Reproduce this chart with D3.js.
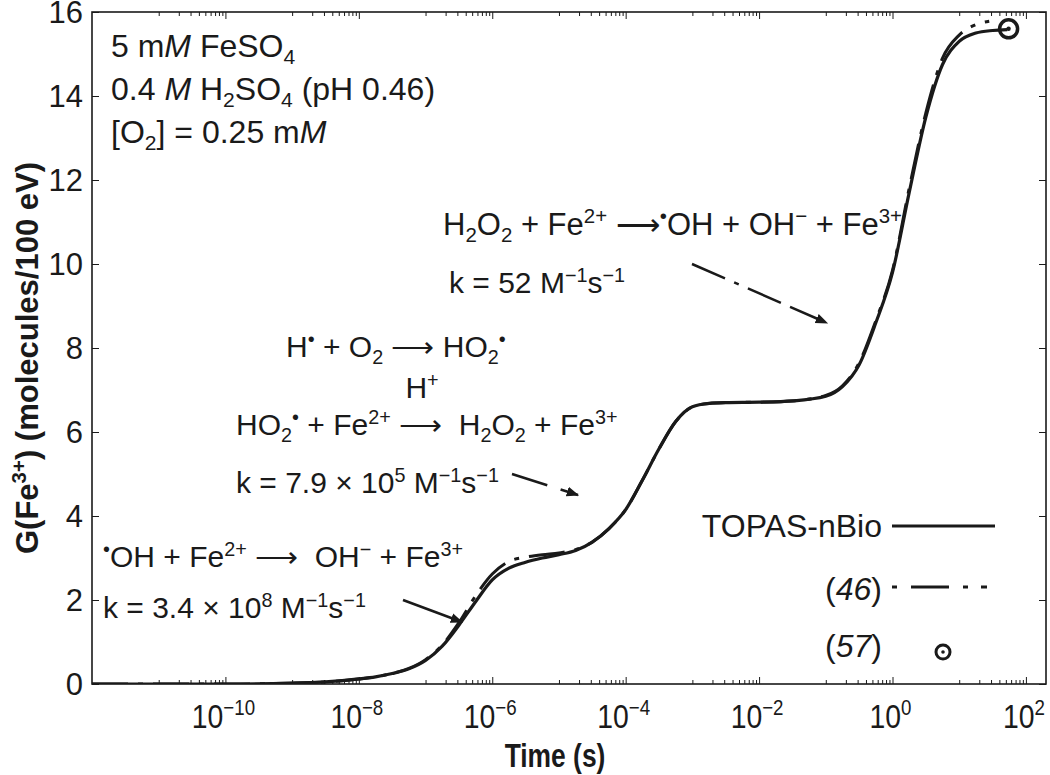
<!DOCTYPE html>
<html><head><meta charset="utf-8">
<script src="https://cdn.jsdelivr.net/npm/d3@7"></script>
<style>
html,body{margin:0;padding:0;background:#fff;}
text{white-space:pre;}
</style></head>
<body><svg id="chart" width="1050" height="775"></svg>
<script>
// ---- data ----
const topasLogT = [-12,-10,-9,-8.5,-8,-7.75,-7.5,-7.25,-7,-6.75,-6.5,-6.25,-6,-5.75,-5.5,-5.25,-5,-4.75,-4.5,-4.25,-4,-3.75,-3.5,-3.25,-3,-2.75,-2.5,-2,-1.5,-1,-0.75,-0.5,-0.25,0,0.25,0.5,0.75,1,1.25,1.5,1.72];
const topasG    = [0,0,0.02,0.05,0.12,0.17,0.25,0.36,0.56,0.9,1.4,1.96,2.48,2.76,2.9,3.0,3.08,3.18,3.38,3.7,4.15,4.85,5.6,6.25,6.6,6.68,6.7,6.71,6.74,6.85,7.08,7.6,8.6,9.8,11.7,13.5,14.75,15.3,15.5,15.56,15.58];
const ref46LogT = [-12,-10,-9,-8.5,-8,-7.75,-7.5,-7.25,-7,-6.75,-6.5,-6.25,-6,-5.75,-5.5,-5.25,-5,-4.75,-4.5,-4.25,-4,-3.75,-3.5,-3.25,-3,-2.75,-2.5,-2,-1.5,-1,-0.75,-0.5,-0.25,0,0.25,0.5,0.75,1,1.25,1.45];
const ref46G    = [0,0,0.02,0.05,0.12,0.17,0.25,0.37,0.58,0.93,1.46,2.1,2.62,2.92,3.02,3.08,3.12,3.2,3.38,3.7,4.15,4.85,5.6,6.25,6.6,6.68,6.7,6.71,6.74,6.87,7.1,7.65,8.65,9.85,11.8,13.6,14.9,15.45,15.7,15.78];
const ref57T = [55];
const ref57G = [15.6];
const yTicks = [0,2,4,6,8,10,12,14,16];
const xTickExp = [-10,-8,-6,-4,-2,0,2];

// ---- layout ----
const svg = d3.select('#chart');
const L = 92, R = 1046, T = 12, B = 684;
const x = d3.scaleLog().domain([1e-12, 200]).range([L, R]);
const y = d3.scaleLinear().domain([0, 16]).range([B, T]);
const FONT = 'Liberation Sans, Arial, Helvetica, sans-serif';
const ink = '#1a1a1a';

function rich(sel, px, py, segs, fs, opts = {}) {
  const t = sel.append('text').attr('x', px).attr('y', py)
    .attr('font-family', FONT).attr('font-size', fs)
    .attr('fill', ink).attr('text-anchor', opts.anchor || 'start');
  if (opts.weight) t.attr('font-weight', opts.weight);
  if (opts.transform) t.attr('transform', opts.transform);
  let cur = 0;
  segs.forEach(seg => {
    const s = seg[0], k = seg[1] || 'n';
    const target = k === 'sup' ? -fs * 0.38 : k === 'sub' ? fs * 0.22 : 0;
    const ts = t.append('tspan').text(s);
    if (target - cur !== 0) ts.attr('dy', target - cur);
    cur = target;
    if (k === 'sup' || k === 'sub') ts.attr('font-size', fs * 0.66);
    if (k === 'i') ts.attr('font-style', 'italic');
  });
  return t;
}

// ---- axes ----
const xMajor = xTickExp.map(e => Math.pow(10, e));
const xMinor = [];
xTickExp.forEach(e => { for (let m = 1; m <= 9; m++) xMinor.push(m * Math.pow(10, e - 1)); });

const axisG = svg.append('g');
const bottomAxis = d3.axisBottom(x).tickValues(xMajor).tickSizeInner(-7).tickSizeOuter(0).tickFormat('');
const bottomMinor = d3.axisBottom(x).tickValues(xMinor).tickSizeInner(-4).tickSizeOuter(0).tickFormat('');
const topAxis = d3.axisTop(x).tickValues(xMajor).tickSizeInner(-7).tickSizeOuter(0).tickFormat('');
const topMinor = d3.axisTop(x).tickValues(xMinor).tickSizeInner(-4).tickSizeOuter(0).tickFormat('');
const leftAxis = d3.axisLeft(y).tickValues(yTicks).tickSizeInner(-7).tickSizeOuter(0).tickFormat('');
const rightAxis = d3.axisRight(y).tickValues(yTicks).tickSizeInner(-7).tickSizeOuter(0).tickFormat('');
[[bottomAxis, `translate(0,${B})`], [bottomMinor, `translate(0,${B})`], [topAxis, `translate(0,${T})`], [topMinor, `translate(0,${T})`], [leftAxis, `translate(${L},0)`], [rightAxis, `translate(${R},0)`]].forEach(([a, tr]) => {
  const g = axisG.append('g').attr('transform', tr).call(a);
  g.select('.domain').remove();
  g.selectAll('line').attr('stroke', ink).attr('stroke-width', 1);
});
axisG.append('rect').attr('x', L).attr('y', T).attr('width', R - L).attr('height', B - T)
  .attr('fill', 'none').attr('stroke', ink).attr('stroke-width', 1.6);

// y tick labels
yTicks.forEach(v => {
  svg.append('text').attr('x', L - 9).attr('y', y(v) + 11).attr('text-anchor', 'end')
    .attr('font-family', FONT).attr('font-size', 31).attr('fill', ink).text(v);
});
// x tick labels (slightly condensed)
xTickExp.forEach(e => {
  rich(svg, 0, 0, [['10'], [(e < 0 ? '\u2212' : '') + Math.abs(e), 'sup']], 33,
    { anchor: 'middle', transform: `translate(${x(Math.pow(10, e)) - 2},728) scale(0.86,1)` });
});
// axis titles
rich(svg, 0, 0, [['Time (s)']], 33, { weight: 'bold', anchor: 'middle', transform: `translate(${(L + R) / 2 - 14},767) scale(0.8,1)` });
rich(svg, 0, 0, [['G(Fe'], ['3+', 'sup'], [') (molecules/100 eV)']], 31,
  { weight: 'bold', anchor: 'middle', transform: `translate(38,${(T + B) / 2 + 10}) rotate(-90)` });

// ---- lines ----
const line = d3.line().x(d => x(d[0])).y(d => y(d[1])).curve(d3.curveMonotoneX);
const topasData = topasLogT.map((l, i) => [Math.pow(10, l), topasG[i]]);
const ref46Data = ref46LogT.map((l, i) => [Math.pow(10, l), ref46G[i]]);
svg.append('clipPath').attr('id', 'clip').append('rect').attr('x', L).attr('y', T - 10).attr('width', R - L).attr('height', B - T + 10);
const plotG = svg.append('g').attr('clip-path', 'url(#clip)');
plotG.append('path').datum(ref46Data).attr('d', line).attr('fill', 'none').attr('stroke', ink)
  .attr('stroke-width', 3).attr('stroke-dasharray', '36,10,5,10');
plotG.append('path').datum(topasData).attr('d', line).attr('fill', 'none').attr('stroke', ink)
  .attr('stroke-width', 3.2);
ref57T.forEach((t, i) => {
  plotG.append('circle').attr('cx', x(t)).attr('cy', y(ref57G[i])).attr('r', 9).attr('fill', 'none').attr('stroke', ink).attr('stroke-width', 3.5);
  plotG.append('circle').attr('cx', x(t)).attr('cy', y(ref57G[i])).attr('r', 2.2).attr('fill', ink);
});

// ---- legend ----
const legX1 = 892, legX2 = 995, LF = 32;
rich(svg, 882, 537, [['TOPAS-nBio']], LF, { anchor: 'end' });
svg.append('line').attr('x1', legX1).attr('x2', legX2).attr('y1', 526).attr('y2', 526).attr('stroke', ink).attr('stroke-width', 3);
rich(svg, 882, 600, [['('], ['46', 'i'], [')']], LF, { anchor: 'end' });
svg.append('line').attr('x1', legX1).attr('x2', legX2).attr('y1', 587).attr('y2', 587).attr('stroke', ink).attr('stroke-width', 3)
  .attr('stroke-dasharray', '5,14,38,14,5,13,6,14');
rich(svg, 882, 657, [['('], ['57', 'i'], [')']], LF, { anchor: 'end' });
svg.append('circle').attr('cx', 943).attr('cy', 652).attr('r', 7).attr('fill', 'none').attr('stroke', ink).attr('stroke-width', 3);
svg.append('circle').attr('cx', 943).attr('cy', 652).attr('r', 1.8).attr('fill', ink);

// ---- annotations ----
const TF = 32, AF = 30;
rich(svg, 111, 57, [['5 m'], ['M', 'i'], [' FeSO'], ['4', 'sub']], TF);
rich(svg, 111, 100, [['0.4 '], ['M', 'i'], [' H'], ['2', 'sub'], ['SO'], ['4', 'sub'], [' (pH 0.46)']], TF);
rich(svg, 111, 143, [['[O'], ['2', 'sub'], ['] = 0.25 m'], ['M', 'i']], TF);

rich(svg, 443, 235, [['H'], ['2', 'sub'], ['O'], ['2', 'sub'], [' + Fe'], ['2+', 'sup'], [' \u27F6'], ['\u2022', 'sup'], ['OH + OH'], ['\u2212', 'sup'], [' + Fe'], ['3+', 'sup']], 31);
rich(svg, 449, 293, [['k = 52 M'], ['\u22121', 'sup'], ['s'], ['\u22121', 'sup']], AF);

rich(svg, 286, 357, [['H'], ['\u2022', 'sup'], [' + O'], ['2', 'sub'], [' \u27F6 HO'], ['2', 'sub'], ['\u2022', 'sup']], AF);
rich(svg, 422, 398, [['H'], ['+', 'sup']], AF, { anchor: 'middle' });
rich(svg, 236, 435, [['HO'], ['2', 'sub'], ['\u2022', 'sup'], [' + Fe'], ['2+', 'sup'], [' \u27F6  H'], ['2', 'sub'], ['O'], ['2', 'sub'], [' + Fe'], ['3+', 'sup']], AF);
rich(svg, 236, 493, [['k = 7.9 \u00D7 10'], ['5', 'sup'], [' M'], ['\u22121', 'sup'], ['s'], ['\u22121', 'sup']], AF);

rich(svg, 103, 567, [['\u2022', 'sup'], ['OH + Fe'], ['2+', 'sup'], [' \u27F6  OH'], ['\u2212', 'sup'], [' + Fe'], ['3+', 'sup']], AF);
rich(svg, 103, 618, [['k = 3.4 \u00D7 10'], ['8', 'sup'], [' M'], ['\u22121', 'sup'], ['s'], ['\u22121', 'sup']], AF);

// arrows
const defs = svg.append('defs');
defs.append('marker').attr('id', 'ah').attr('viewBox', '0 0 10 10').attr('refX', 9).attr('refY', 5)
  .attr('markerWidth', 5).attr('markerHeight', 5).attr('markerUnits', 'strokeWidth').attr('orient', 'auto')
  .append('path').attr('d', 'M0,1 L10,5 L0,9 Z').attr('fill', ink);
svg.append('line').attr('x1', 692).attr('y1', 264).attr('x2', 827).attr('y2', 323)
  .attr('stroke', ink).attr('stroke-width', 2.5).attr('stroke-dasharray', '36,10,5,10,36,10').attr('marker-end', 'url(#ah)');
svg.append('line').attr('x1', 512).attr('y1', 474).attr('x2', 578).attr('y2', 495)
  .attr('stroke', ink).attr('stroke-width', 2.5).attr('stroke-dasharray', '37,14,20').attr('marker-end', 'url(#ah)');
svg.append('line').attr('x1', 403).attr('y1', 600).attr('x2', 462).attr('y2', 622)
  .attr('stroke', ink).attr('stroke-width', 2.5).attr('marker-end', 'url(#ah)');
</script></body></html>
